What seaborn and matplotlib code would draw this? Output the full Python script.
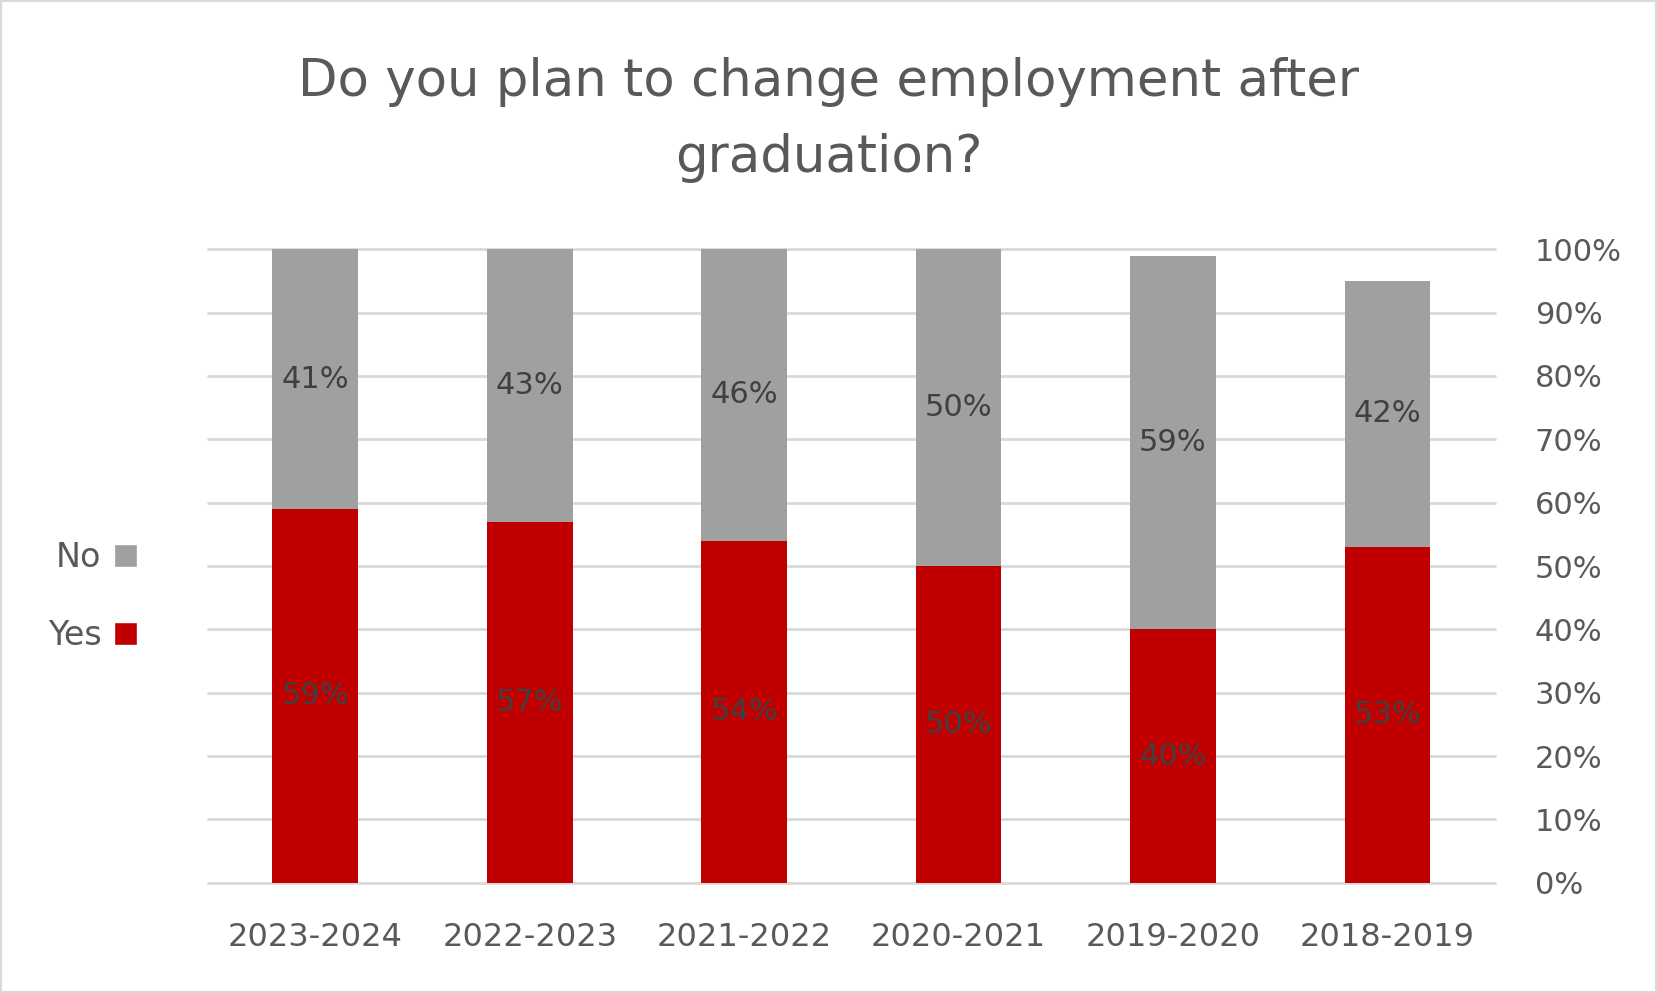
import matplotlib
matplotlib.use("Agg")
import matplotlib.pyplot as plt
import seaborn as sns
import pandas as pd
from matplotlib.patches import Patch, Rectangle

years = ["2018-2019", "2019-2020", "2020-2021", "2021-2022", "2022-2023", "2023-2024"]
yes_vals = [53, 40, 50, 54, 57, 59]
no_vals = [42, 59, 50, 46, 43, 41]
title = "Do you plan to change employment after\ngraduation?"
y_ticks = [0, 10, 20, 30, 40, 50, 60, 70, 80, 90, 100]

RED = "#C00000"
GREY = "#A0A0A0"
TXT = "#595959"
LBL = "#404040"

sns.set_theme(style="white")
plt.rcParams["font.family"] = ["DejaVu Sans"]

df = pd.DataFrame({"year": years, "Yes": yes_vals, "No": no_vals})
df["total"] = df["Yes"] + df["No"]

fig = plt.figure(figsize=(16.57, 9.93), dpi=100)
ax = fig.add_axes([0.1256, 0.111, 0.902 - 0.1256, 0.749 - 0.111])

sns.barplot(data=df, x="year", y="total", color=GREY, width=0.4, saturation=1,
            linewidth=0, ax=ax, zorder=2)
sns.barplot(data=df, x="year", y="Yes", color=RED, width=0.4, saturation=1,
            linewidth=0, ax=ax, zorder=3)

for i, (y, n) in enumerate(zip(yes_vals, no_vals)):
    ax.text(i, y / 2, f"{y}%", ha="center", va="center", fontsize=22, color=LBL, zorder=5)
    ax.text(i, y + n / 2, f"{n}%", ha="center", va="center", fontsize=22, color=LBL, zorder=5)

ax.set_ylim(0, 100)
ax.set_yticks(y_ticks)
ax.set_yticklabels([f"{t}%" for t in y_ticks])
ax.set_xlim(5.5, -0.5)
ax.yaxis.tick_right()
ax.set_xlabel("")
ax.set_ylabel("")
ax.grid(axis="y", color="#D9D9D9", lw=2)
ax.set_axisbelow(True)
for line in ax.get_ygridlines():
    line.set_clip_on(False)
for s in ax.spines.values():
    s.set_visible(False)
ax.tick_params(axis="y", length=0, pad=29, labelsize=22, labelcolor=TXT)
ax.tick_params(axis="x", length=0, pad=28, labelsize=23, labelcolor=TXT)

fig.text(0.5, 0.879, title, ha="center", va="center", fontsize=37, color=TXT, linespacing=1.67)

handles = [Patch(facecolor=GREY, label="No"), Patch(facecolor=RED, label="Yes")]
fig.legend(handles=handles, loc="center right", bbox_to_anchor=(137 / 1657, 0.399),
           frameon=False, markerfirst=False, fontsize=24, labelcolor=TXT,
           handlelength=0.7, handleheight=0.7, handletextpad=0.36,
           labelspacing=1.35, borderpad=0, borderaxespad=0)

fig.patches.append(Rectangle((0, 0), 1, 1, transform=fig.transFigure, fill=False,
                             edgecolor="#D9D9D9", lw=3))

fig.savefig("out.png", dpi=100)
